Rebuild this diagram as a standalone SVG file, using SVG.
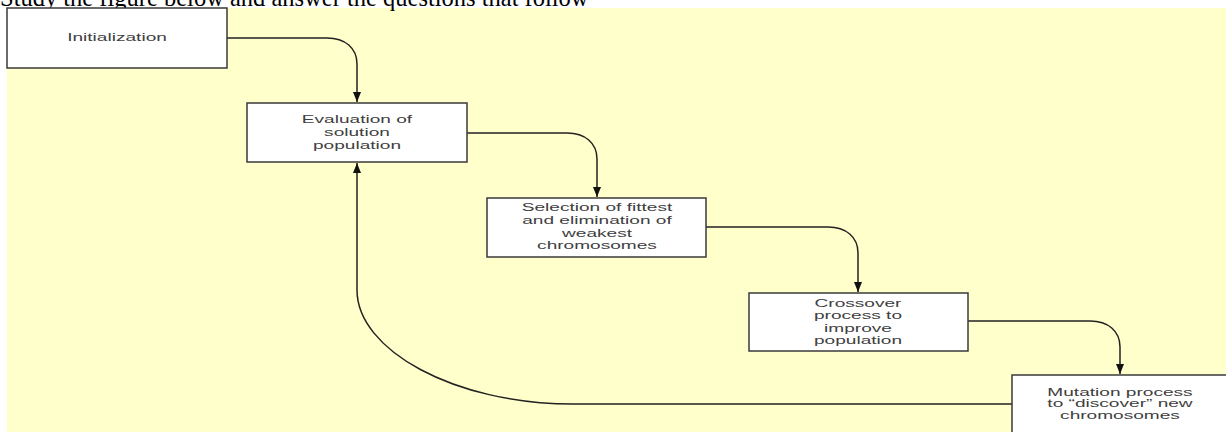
<svg xmlns="http://www.w3.org/2000/svg" width="1226" height="432" viewBox="0 0 1226 432">
<style>
.bg{fill:#ffffcc}
.box{fill:#ffffff;stroke:#3a3a3a;stroke-width:1.5}
.lbl{font-family:"Liberation Sans",Arial,sans-serif;font-size:11.5px;fill:#404040;text-anchor:middle}
.title{font-family:"Liberation Serif","Times New Roman",serif;font-size:24.5px;fill:#000}
.conn{fill:none;stroke:#222;stroke-width:1.5}
</style>
<defs>
<marker id="ah" viewBox="0 0 10 8" refX="10" refY="4" markerWidth="10" markerHeight="9" markerUnits="userSpaceOnUse" orient="auto">
<path d="M0,0 L10,4 L0,8 Z" fill="#111"/>
</marker>
</defs>
<rect x="0" y="0" width="1226" height="432" fill="#ffffff"/>
<rect class="bg" x="7" y="8" width="1219" height="424"/>
<text class="title" x="0" y="6">Study the figure below and answer the questions that follow</text>
<g id="connectors">
<path class="conn" d="M227,38 L327,38 C345,38 357,48 357,64 L357,102" marker-end="url(#ah)"/>
<path class="conn" d="M467,133 L567,133 C585,133 597,143 597,159 L597,197" marker-end="url(#ah)"/>
<path class="conn" d="M706,227 L828,227 C846,227 858,237 858,253 L858,292" marker-end="url(#ah)"/>
<path class="conn" d="M968,321 L1090,321 C1108,321 1120,331 1120,347 L1120,374" marker-end="url(#ah)"/>
<path class="conn" d="M1012,404 L573,404 C454,404 357,350 357,290 L357,163" marker-end="url(#ah)"/>
</g>
<g id="n1">
<rect class="box" x="7" y="8" width="220" height="60"/>
<text class="lbl" transform="matrix(1.66 0 0 1 117 0)" x="0" y="41">Initialization</text>
</g>
<g id="n2">
<rect class="box" x="247" y="103" width="220" height="59"/>
<text class="lbl" transform="matrix(1.66 0 0 1 357 0)"><tspan x="0" y="123">Evaluation of</tspan><tspan x="0" y="136">solution</tspan><tspan x="0" y="149">population</tspan></text>
</g>
<g id="n3">
<rect class="box" x="487" y="198" width="219" height="59"/>
<text class="lbl" transform="matrix(1.66 0 0 1 597 0)"><tspan x="0" y="211">Selection of fittest</tspan><tspan x="0" y="224">and elimination of</tspan><tspan x="0" y="237">weakest</tspan><tspan x="0" y="249">chromosomes</tspan></text>
</g>
<g id="n4">
<rect class="box" x="749" y="293" width="219" height="58"/>
<text class="lbl" transform="matrix(1.66 0 0 1 858 0)"><tspan x="0" y="307">Crossover</tspan><tspan x="0" y="319">process to</tspan><tspan x="0" y="332">improve</tspan><tspan x="0" y="344">population</tspan></text>
</g>
<g id="n5">
<rect class="box" x="1012" y="375" width="222" height="62"/>
<text class="lbl" transform="matrix(1.66 0 0 1 1120 0)"><tspan x="0" y="396">Mutation process</tspan><tspan x="0" y="407">to “discover” new</tspan><tspan x="0" y="419">chromosomes</tspan></text>
</g>
</svg>
